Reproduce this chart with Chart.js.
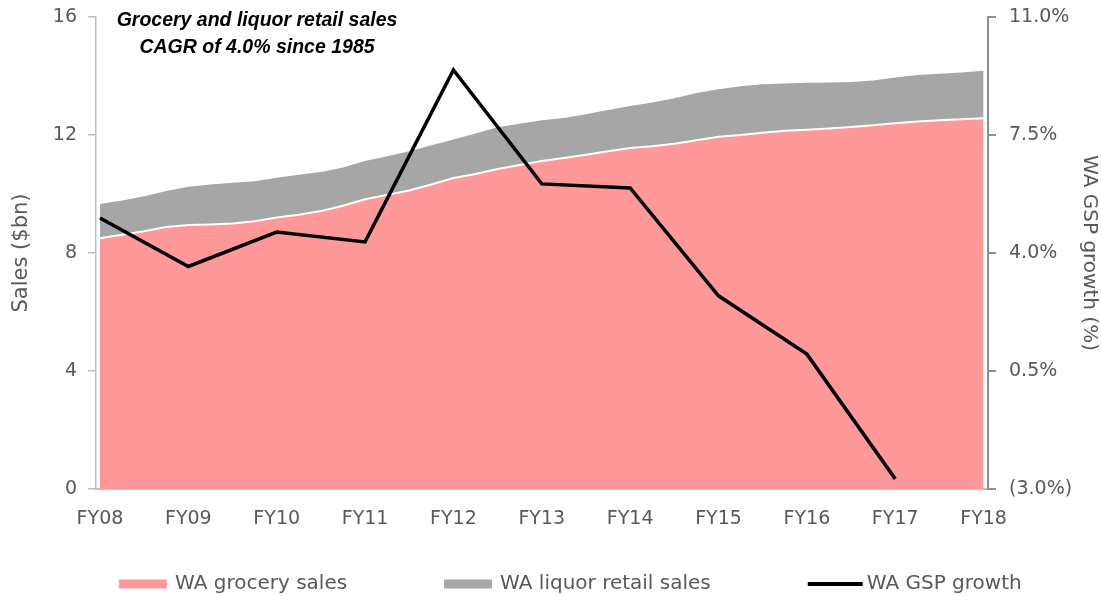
<!DOCTYPE html>
<html>
<head>
<meta charset="utf-8">
<script src="https://cdn.jsdelivr.net/npm/chart.js@4"></script>
<style>
  html, body { margin: 0; padding: 0; background: #fff; }
</style>
</head>
<body>
<canvas id="salesChart" width="1101" height="596"></canvas>
<script>
const fyLabels = ['FY08', 'FY09', 'FY10', 'FY11', 'FY12', 'FY13', 'FY14', 'FY15', 'FY16', 'FY17', 'FY18'];

// quarterly sales ($bn), FY08 to FY18
const grocerySales = [8.50, 8.62, 8.74, 8.88, 8.95, 8.97, 9.00, 9.08, 9.20, 9.30, 9.42, 9.60, 9.82, 9.97,
  10.12, 10.32, 10.54, 10.68, 10.85, 10.98, 11.12, 11.22, 11.33, 11.45, 11.56, 11.62, 11.70, 11.82,
  11.94, 12.00, 12.08, 12.14, 12.18, 12.22, 12.27, 12.33, 12.40, 12.46, 12.50, 12.53, 12.57];
const liquorSales = [1.16, 1.16, 1.18, 1.22, 1.30, 1.35, 1.38, 1.35, 1.35, 1.35, 1.33, 1.30, 1.30, 1.31,
  1.33, 1.33, 1.31, 1.37, 1.41, 1.40, 1.38, 1.36, 1.37, 1.40, 1.42, 1.48, 1.55, 1.60,
  1.61, 1.65, 1.64, 1.61, 1.59, 1.56, 1.53, 1.52, 1.55, 1.57, 1.58, 1.59, 1.61];

// annual WA GSP growth (%), FY08 to FY17
const gspGrowth = [5.04, 3.60, 4.62, 4.33, 9.43, 6.05, 5.93, 2.73, 1.00, -2.70];

const titleLines = ['Grocery and liquor retail sales', 'CAGR of 4.0% since 1985'];

const textColor = '#595959';
const fontFamily = '"DejaVu Sans", sans-serif';

const quarterly = values => values.map((v, i) => ({ x: i / 4, y: v }));
const pct = v => v < 0 ? '(' + Math.abs(v).toFixed(1) + '%)' : v.toFixed(1) + '%';

// keep the plot area fixed: no extra room for half tick labels
const fixWidth = w => s => { s.width = w; s.paddingTop = 0; s.paddingBottom = 0; };

const chartTitle = {
  id: 'chartTitle',
  afterDraw(chart) {
    const { ctx } = chart;
    ctx.save();
    ctx.font = 'italic bold 19.5px "Liberation Sans", Arial, sans-serif';
    ctx.fillStyle = '#000';
    ctx.textAlign = 'center';
    ctx.textBaseline = 'middle';
    titleLines.forEach((line, i) => ctx.fillText(line, 257, 21 + i * 27));
    ctx.restore();
  }
};

const bottomLegend = {
  id: 'bottomLegend',
  afterDraw(chart) {
    const { ctx } = chart;
    const y = 584;
    let x = 119;
    ctx.save();
    ctx.font = '20px ' + fontFamily;
    ctx.textBaseline = 'middle';
    chart.data.datasets.forEach(ds => {
      if (ds.fill === false) {
        ctx.strokeStyle = ds.borderColor;
        ctx.lineWidth = 4;
        ctx.beginPath();
        ctx.moveTo(x, y);
        ctx.lineTo(x + 55, y);
        ctx.stroke();
        x += 59;
      } else {
        ctx.fillStyle = ds.backgroundColor;
        ctx.fillRect(x, y - 4.5, 48, 9);
        x += 56;
      }
      ctx.fillStyle = textColor;
      ctx.fillText(ds.label, x, y);
      x += ctx.measureText(ds.label).width + 97;
    });
    ctx.restore();
  }
};

new Chart(document.getElementById('salesChart'), {
  type: 'line',
  data: {
    datasets: [{
      label: 'WA grocery sales',
      data: quarterly(grocerySales),
      yAxisID: 'y',
      backgroundColor: '#ff9999',
      borderColor: '#ffffff',
      borderWidth: 2,
      fill: 'origin',
      pointRadius: 0,
      order: 1
    }, {
      label: 'WA liquor retail sales',
      data: quarterly(liquorSales),
      yAxisID: 'y',
      backgroundColor: '#a6a6a6',
      borderColor: 'rgba(0,0,0,0)',
      borderWidth: 0,
      fill: '-1',
      pointRadius: 0,
      order: 2
    }, {
      label: 'WA GSP growth',
      data: gspGrowth.map((v, i) => ({ x: i, y: v })),
      yAxisID: 'y1',
      borderColor: '#000000',
      borderWidth: 3.5,
      fill: false,
      pointRadius: 0,
      order: 0
    }]
  },
  options: {
    responsive: false,
    animation: false,
    devicePixelRatio: 1,
    layout: { padding: { top: 17, left: 0, right: 0, bottom: 0 } },
    plugins: { legend: { display: false }, tooltip: { enabled: false } },
    scales: {
      x: {
        type: 'linear',
        min: -0.045,
        max: 10.05,
        afterBuildTicks: s => { s.ticks = fyLabels.map((_, i) => ({ value: i })); },
        afterFit: s => { s.height = 107; },
        ticks: {
          callback: v => fyLabels[v],
          color: textColor,
          font: { family: fontFamily, size: 19 },
          padding: 11,
          maxRotation: 0,
          autoSkip: false
        },
        grid: { display: false },
        border: { color: '#c0c0c0', width: 2 }
      },
      y: {
        position: 'left',
        stacked: true,
        min: 0,
        max: 16,
        afterFit: fixWidth(96),
        ticks: { stepSize: 4, padding: 11, color: textColor, font: { family: fontFamily, size: 19 } },
        grid: { drawOnChartArea: false, drawTicks: true, tickLength: 8, color: '#bfbfbf', lineWidth: 1.5 },
        border: { color: '#bfbfbf', width: 1.5 },
        title: {
          display: true,
          text: 'Sales ($bn)',
          color: textColor,
          font: { family: fontFamily, size: 21 },
          padding: { top: 9, bottom: 0 }
        }
      },
      y1: {
        position: 'right',
        min: -3,
        max: 11,
        afterFit: fixWidth(113),
        ticks: { stepSize: 3.5, callback: pct, padding: 13, color: textColor, font: { family: fontFamily, size: 19 } },
        grid: { drawOnChartArea: false, drawTicks: true, tickLength: 8, color: '#8c8c8c', lineWidth: 2 },
        border: { color: '#8c8c8c', width: 2 },
        title: {
          display: true,
          text: 'WA GSP growth (%)',
          color: textColor,
          font: { family: fontFamily, size: 20 },
          padding: { top: 0, bottom: 0 }
        }
      }
    }
  },
  plugins: [chartTitle, bottomLegend]
});
</script>
</body>
</html>
